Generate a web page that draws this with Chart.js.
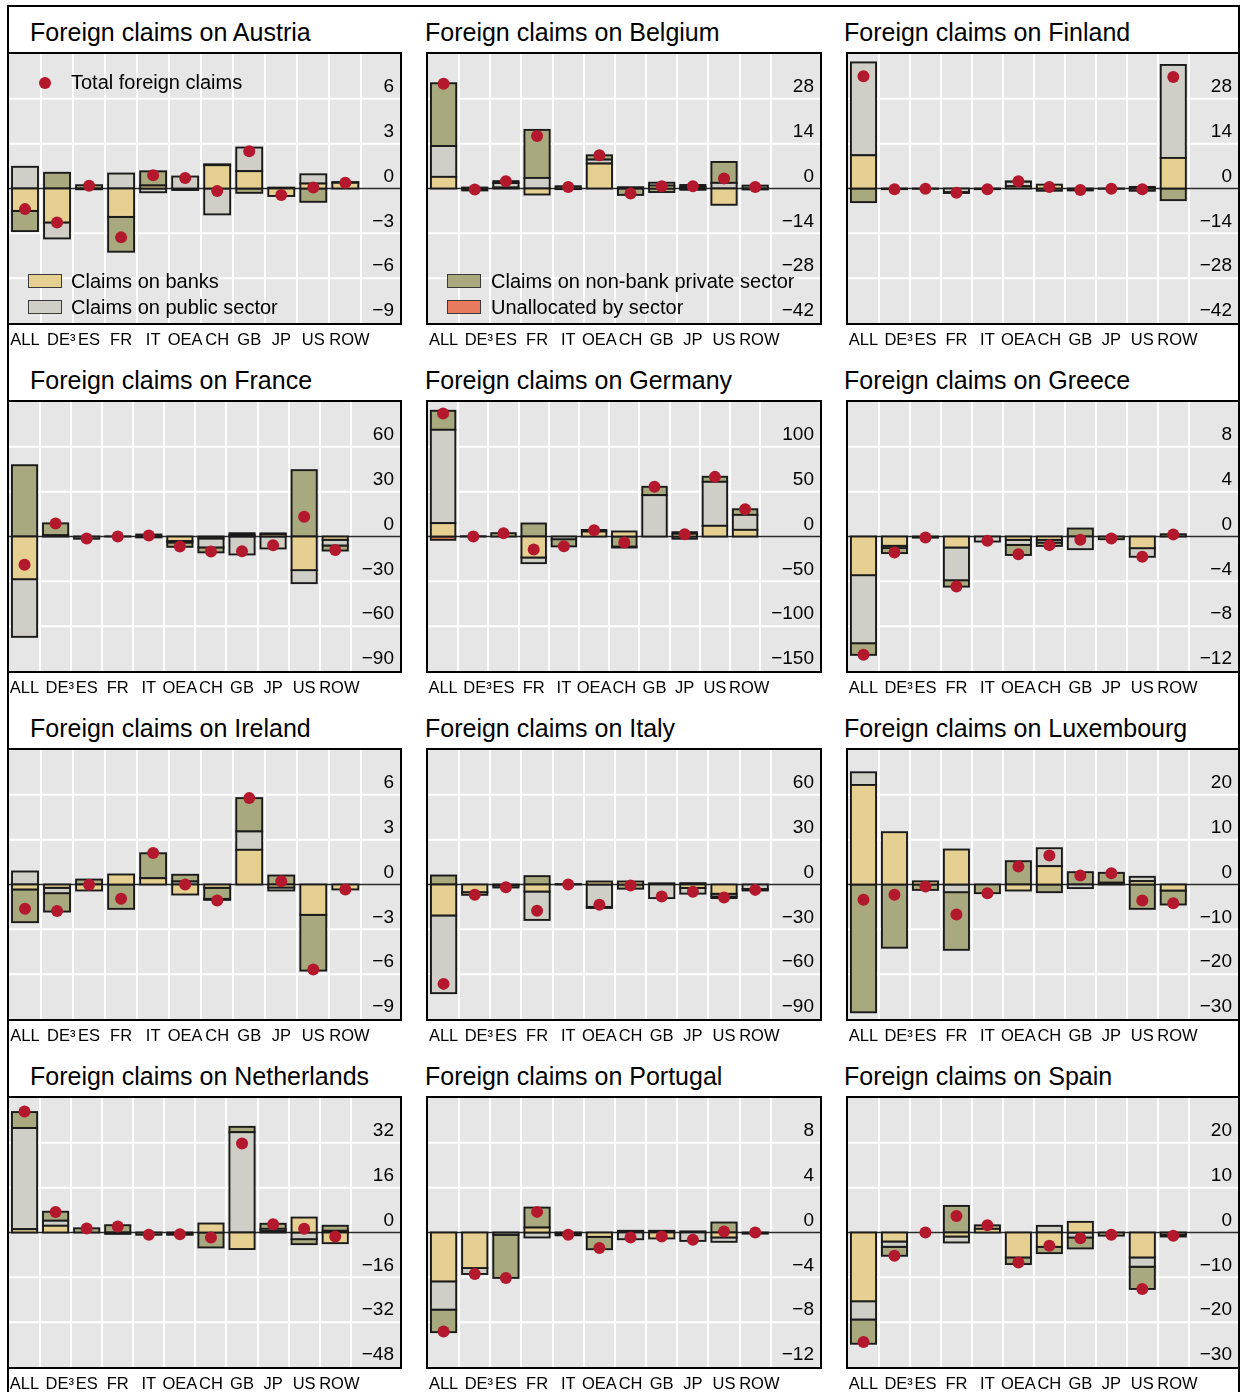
<!DOCTYPE html>
<html lang="en">
<head>
<meta charset="UTF-8">
<title>Foreign claims by reporting country</title>
<style>
    body {
        margin: 0;
        width: 1241px;
        height: 1392px;
        position: relative;
        overflow: hidden;
        background: #ffffff;
        font-family: "Liberation Sans", Arial, sans-serif;
        color: #000;
    }
    .line { position: absolute; background: #000; }
    .title {
        position: absolute;
        font-size: 25px;
        line-height: 25px;
        white-space: nowrap;
    }
    canvas { position: absolute; }
    .legend {
        position: absolute;
        font-size: 20px;
        line-height: 20px;
        white-space: nowrap;
    }
    .swatch {
        position: absolute;
        width: 34px;
        height: 14px;
        box-sizing: border-box;
        border: 1px solid #3a3a3a;
    }
    .dot {
        position: absolute;
        width: 12px;
        height: 12px;
        border-radius: 50%;
        background: #b3182d;
    }
</style>
</head>
<body>

<div class="line" style="left:7px;top:5px;width:1233px;height:2px"></div>
<div class="line" style="left:7px;top:5px;width:2px;height:1387px"></div>
<div class="line" style="left:1238px;top:5px;width:2px;height:1387px"></div>

<div class="title" style="left:30px;top:20px">Foreign claims on Austria</div>
<div class="title" style="left:425px;top:20px">Foreign claims on Belgium</div>
<div class="title" style="left:844px;top:20px">Foreign claims on Finland</div>
<div class="title" style="left:30px;top:368px">Foreign claims on France</div>
<div class="title" style="left:425px;top:368px">Foreign claims on Germany</div>
<div class="title" style="left:844px;top:368px">Foreign claims on Greece</div>
<div class="title" style="left:30px;top:716px">Foreign claims on Ireland</div>
<div class="title" style="left:425px;top:716px">Foreign claims on Italy</div>
<div class="title" style="left:844px;top:716px">Foreign claims on Luxembourg</div>
<div class="title" style="left:30px;top:1064px">Foreign claims on Netherlands</div>
<div class="title" style="left:425px;top:1064px">Foreign claims on Portugal</div>
<div class="title" style="left:844px;top:1064px">Foreign claims on Spain</div>

<canvas id="austria" width="395" height="303" style="left:7px;top:52px"></canvas>
<canvas id="belgium" width="396" height="303" style="left:426px;top:52px"></canvas>
<canvas id="finland" width="394" height="303" style="left:846px;top:52px"></canvas>
<canvas id="france" width="395" height="303" style="left:7px;top:400px"></canvas>
<canvas id="germany" width="396" height="303" style="left:426px;top:400px"></canvas>
<canvas id="greece" width="394" height="303" style="left:846px;top:400px"></canvas>
<canvas id="ireland" width="395" height="303" style="left:7px;top:748px"></canvas>
<canvas id="italy" width="396" height="303" style="left:426px;top:748px"></canvas>
<canvas id="luxembourg" width="394" height="303" style="left:846px;top:748px"></canvas>
<canvas id="netherlands" width="395" height="303" style="left:7px;top:1096px"></canvas>
<canvas id="portugal" width="396" height="303" style="left:426px;top:1096px"></canvas>
<canvas id="spain" width="394" height="303" style="left:846px;top:1096px"></canvas>

<!-- legend sits inside the Austria and Belgium panels -->
<div class="dot" style="left:39px;top:77px"></div>
<div class="legend" style="left:71px;top:72px">Total foreign claims</div>
<div class="swatch" style="left:28px;top:274px;background:#e5d092"></div>
<div class="legend" style="left:71px;top:271px">Claims on banks</div>
<div class="swatch" style="left:28px;top:300px;background:#cfcfc8"></div>
<div class="legend" style="left:71px;top:297px">Claims on public sector</div>
<div class="swatch" style="left:447px;top:274px;background:#a8a97e"></div>
<div class="legend" style="left:491px;top:271px">Claims on non-bank private sector</div>
<div class="swatch" style="left:447px;top:300px;background:#e87a5e"></div>
<div class="legend" style="left:491px;top:297px">Unallocated by sector</div>

<script src="https://cdn.jsdelivr.net/npm/chart.js"></script>
<script>
    // en space in front of DE³ and ROW nudges them right like the original's spacing
    const categories = ['ALL', '\u2002DE\u00b3', 'ES', 'FR', 'IT', 'OEA', 'CH', 'GB', 'JP', 'US', '\u2002ROW'];

    // Austria
    const atBanks   = [-1.5, -2.27, null, -1.9, 0.2, null, 1.56, 1.16, -0.5, 0.33, 0.38];
    const atPublic  = [1.45, -1.07, -0.05, 1.0, -0.25, 0.8, -1.73, 1.58, null, 0.62, null];
    const atNonbank = [-1.35, 1.05, 0.22, -2.33, 0.95, -0.1, 0.06, -0.29, 0.06, -0.89, 0.05];
    const atUnalloc = [];
    const atTotal   = [-1.38, -2.27, 0.18, -3.27, 0.89, 0.71, -0.16, 2.49, -0.44, 0.07, 0.38];

    // Belgium
    const beBanks   = [3.63, 0.3, 0.3, -1.87, -0.2, 7.78, 0.4, 0.9, 0.5, -5.08, -0.3];
    const bePublic  = [9.64, null, 1.4, 3.3, null, 1.24, null, 0.9, -0.4, 1.76, null];
    const beNonbank = [19.6, -0.6, 0.6, 15.0, 0.7, 1.35, -2.0, -1.1, 0.6, 6.53, 0.9];
    const beUnalloc = [];
    const beTotal   = [32.7, -0.3, 2.28, 16.4, 0.5, 10.37, -1.56, 0.73, 0.73, 3.11, 0.5];

    // Finland
    const fiBanks   = [10.37, null, null, null, null, 0.7, 1.2, null, null, 0.5, 9.54];
    const fiPublic  = [29.0, null, null, -1.1, null, 1.4, -0.7, null, null, -0.7, 29.04];
    const fiNonbank = [-4.25, -0.2, -0.1, -0.3, -0.2, 0.1, null, -0.6, -0.1, null, -3.63];
    const fiUnalloc = [];
    const fiTotal   = [35.05, -0.2, -0.1, -1.35, -0.2, 2.28, 0.5, -0.5, -0.1, -0.2, 34.8];

    // France
    const frBanks   = [-28.55, 0.8, null, null, -0.6, -3.0, -1.3, 1.0, 1.5, -22.5, -2.2];
    const frPublic  = [-38.6, null, null, null, null, -1.0, -6.0, -12.0, -8.0, -8.7, -3.8];
    const frNonbank = [47.7, 8.0, -1.5, 0.1, 1.3, -2.9, -3.3, 1.2, 0.6, 44.4, -3.4];
    const frUnalloc = [];
    const frTotal   = [-18.96, 8.7, -1.34, 0, 0.67, -6.7, -10.0, -9.8, -5.8, 13.16, -9.1];

    // Germany
    const deBanks   = [14.9, null, null, -23.4, null, 5.5, 5.6, null, 3.0, 11.9, 7.4];
    const dePublic  = [104.1, null, null, -6.3, -3.0, null, null, 46.1, -2.5, 49.1, 16.7];
    const deNonbank = [21.2, 0.3, 3.7, 14.5, -8.0, 1.8, -11.2, 9.3, 1.8, 5.6, 6.3];
    const deUnalloc = [-3.7, null, null, null, null, null, -1.1, null, null, null, null];
    const deTotal   = [137.2, 0, 3.7, -14.5, -10.8, 7.1, -6.7, 55.4, 2.6, 66.5, 30.5];

    // Greece
    const grBanks   = [-3.45, -0.83, null, -0.98, null, -0.3, -0.3, null, null, -1.04, null];
    const grPublic  = [-6.07, -0.2, null, -2.92, -0.45, -0.45, -0.24, -1.13, null, -0.77, null];
    const grNonbank = [-1.04, -0.45, -0.1, -0.57, null, -0.9, -0.3, 0.71, -0.24, null, 0.2];
    const grUnalloc = [];
    const grTotal   = [-10.56, -1.43, -0.09, -4.46, -0.39, -1.58, -0.77, -0.3, -0.18, -1.81, 0.18];

    // Ireland
    const ieBanks   = [-0.33, -0.22, -0.4, 0.67, 0.42, -0.67, -0.22, 2.32, -0.2, -2.03, -0.33];
    const iePublic  = [0.87, -0.36, null, null, null, 0.2, null, 1.23, -0.2, null, null];
    const ieNonbank = [-2.19, -1.23, 0.33, -1.63, 1.67, 0.45, -0.74, 2.23, 0.6, -3.73, null];
    const ieUnalloc = [null, null, null, null, null, null, -0.07, null, null, null, null];
    const ieTotal   = [-1.63, -1.78, -0.02, -0.96, 2.1, 0, -1.07, 5.78, 0.22, -5.69, -0.33];

    // Italy
    const itBanks   = [-20.7, -5.1, -0.5, -4.7, null, 2.0, 2.0, null, -2.3, -6.2, null];
    const itPublic  = [-52.0, null, null, -19.0, null, -15.0, null, -9.1, -3.8, -1.8, -3.0];
    const itNonbank = [6.0, -1.8, -1.5, 5.6, 0.3, -0.7, -2.8, 0.8, 0.9, -1.1, -1.0];
    const itUnalloc = [];
    const itTotal   = [-66.5, -6.9, -1.8, -17.6, 0, -13.6, -0.7, -8.0, -4.9, -8.7, -3.6];

    // Luxembourg
    const luBanks   = [22.2, 11.67, 0.7, 7.8, null, -1.34, 4.09, null, 0.4, 0.74, -1.34];
    const luPublic  = [2.83, null, null, -1.71, null, null, 4.0, -0.8, null, 0.97, null];
    const luNonbank = [-28.5, -14.1, -1.2, -12.86, -1.93, 5.2, -1.71, 2.75, 2.2, -5.43, -3.12];
    const luUnalloc = [];
    const luTotal   = [-3.42, -2.3, -0.45, -6.7, -1.93, 4.0, 6.47, 2.0, 2.53, -3.57, -4.16];

    // Netherlands
    const nlBanks   = [1.18, 2.4, null, -0.5, null, null, 3.2, -5.9, 0.5, 5.33, -3.8];
    const nlPublic  = [36.1, 1.8, null, null, null, -0.6, null, 35.8, 0.8, -2.37, 0.6];
    const nlNonbank = [5.7, 3.2, 1.5, 2.6, -0.8, -0.2, -5.33, 1.9, 1.8, -1.78, 1.8];
    const nlUnalloc = [];
    const nlTotal   = [43.2, 7.35, 1.42, 2.13, -0.83, -0.6, -1.78, 31.75, 2.96, 1.3, -1.42];

    // Portugal
    const ptBanks   = [-4.36, -3.17, null, 0.44, -0.1, -0.39, null, -0.53, null, -0.44, null];
    const ptPublic  = [-2.52, -0.53, -0.2, -0.44, null, null, -0.6, null, -0.75, -0.39, null];
    const ptNonbank = [-2.01, null, -3.85, 1.78, -0.15, -1.1, 0.15, 0.15, 0.1, 0.89, -0.1];
    const ptUnalloc = [];
    const ptTotal   = [-8.83, -3.7, -4.06, 1.84, -0.21, -1.39, -0.44, -0.36, -0.65, 0.09, 0];

    // Spain
    const esBanks   = [-15.33, -2.0, null, -0.89, 0.8, -5.56, -3.19, 2.37, null, -5.56, -0.5];
    const esPublic  = [-4.07, -1.19, null, -1.33, null, null, 1.48, -1.11, null, -2.07, null];
    const esNonbank = [-5.41, -2.0, null, 5.93, 0.8, -1.48, -1.41, -2.44, -0.7, -4.96, -0.4];
    const esUnalloc = [];
    const esTotal   = [-24.4, -5.19, 0, 3.7, 1.63, -6.67, -2.96, -1.26, -0.52, -12.59, -0.74];

    const panels = [
        { id: 'austria',     max: 9,   step: 3,  banks: atBanks, pub: atPublic, nonbank: atNonbank, unalloc: atUnalloc, total: atTotal },
        { id: 'belgium',     max: 42,  step: 14, banks: beBanks, pub: bePublic, nonbank: beNonbank, unalloc: beUnalloc, total: beTotal },
        { id: 'finland',     max: 42,  step: 14, banks: fiBanks, pub: fiPublic, nonbank: fiNonbank, unalloc: fiUnalloc, total: fiTotal },
        { id: 'france',      max: 90,  step: 30, banks: frBanks, pub: frPublic, nonbank: frNonbank, unalloc: frUnalloc, total: frTotal },
        { id: 'germany',     max: 150, step: 50, banks: deBanks, pub: dePublic, nonbank: deNonbank, unalloc: deUnalloc, total: deTotal },
        { id: 'greece',      max: 12,  step: 4,  banks: grBanks, pub: grPublic, nonbank: grNonbank, unalloc: grUnalloc, total: grTotal },
        { id: 'ireland',     max: 9,   step: 3,  banks: ieBanks, pub: iePublic, nonbank: ieNonbank, unalloc: ieUnalloc, total: ieTotal },
        { id: 'italy',       max: 90,  step: 30, banks: itBanks, pub: itPublic, nonbank: itNonbank, unalloc: itUnalloc, total: itTotal },
        { id: 'luxembourg',  max: 30,  step: 10, banks: luBanks, pub: luPublic, nonbank: luNonbank, unalloc: luUnalloc, total: luTotal },
        { id: 'netherlands', max: 48,  step: 16, banks: nlBanks, pub: nlPublic, nonbank: nlNonbank, unalloc: nlUnalloc, total: nlTotal },
        { id: 'portugal',    max: 12,  step: 4,  banks: ptBanks, pub: ptPublic, nonbank: ptNonbank, unalloc: ptUnalloc, total: ptTotal },
        { id: 'spain',       max: 30,  step: 10, banks: esBanks, pub: esPublic, nonbank: esNonbank, unalloc: esUnalloc, total: esTotal }
    ];

    const FONT = '"Liberation Sans", Arial, sans-serif';
    const MINUS = '\u2212';

    // grey plot box, white horizontal grid across the label strip, zero line,
    // centred outlines on every bar segment, black frame
    const boxPlugin = {
        id: 'box',
        beforeDraw(chart) {
            const { ctx, chartArea, scales } = chart;
            const y = scales.y;
            const w = chart.width;
            ctx.save();
            ctx.fillStyle = '#e6e6e6';
            ctx.fillRect(2, chartArea.top, w - 4, chartArea.bottom - chartArea.top);
            ctx.strokeStyle = '#ffffff';
            ctx.lineWidth = 2;
            y.ticks.forEach(t => {
                if (t.value === y.max || t.value === y.min || t.value === 0) return;
                const py = y.getPixelForValue(t.value);
                ctx.beginPath();
                ctx.moveTo(2, py);
                ctx.lineTo(w - 2, py);
                ctx.stroke();
            });
            ctx.restore();
        },
        beforeDatasetsDraw(chart) {
            const { ctx, scales } = chart;
            const py = scales.y.getPixelForValue(0);
            ctx.save();
            ctx.strokeStyle = '#2a2a2a';
            ctx.lineWidth = 1.3;
            ctx.beginPath();
            ctx.moveTo(2, py);
            ctx.lineTo(chart.width - 2, py);
            ctx.stroke();
            ctx.restore();
        },
        afterDatasetDraw(chart, args) {
            const meta = args.meta;
            if (meta.type !== 'bar') return;
            const values = chart.data.datasets[args.index].data;
            const ctx = chart.ctx;
            ctx.save();
            ctx.strokeStyle = '#1a1a1a';
            ctx.lineWidth = 1.9;
            meta.data.forEach((bar, i) => {
                if (values[i] === null || values[i] === undefined) return;
                const { x, y, base, width } = bar.getProps(['x', 'y', 'base', 'width'], true);
                ctx.strokeRect(x - width / 2, Math.min(y, base), width, Math.abs(base - y));
            });
            ctx.restore();
        },
        afterDraw(chart) {
            const { ctx, chartArea } = chart;
            ctx.save();
            ctx.strokeStyle = '#000';
            ctx.lineWidth = 2;
            ctx.strokeRect(1, 1, chart.width - 2, chartArea.bottom);
            ctx.restore();
        }
    };

    function barSet(label, data, color) {
        return { label: label, data: data, backgroundColor: color, order: 1 };
    }

    panels.forEach(p => {
        new Chart(document.getElementById(p.id), {
            type: 'bar',
            data: {
                labels: categories,
                datasets: [
                    barSet('Claims on banks', p.banks, '#e5d092'),
                    barSet('Claims on public sector', p.pub, '#cfcfc8'),
                    barSet('Claims on non-bank private sector', p.nonbank, '#a8a97e'),
                    barSet('Unallocated by sector', p.unalloc, '#e87a5e'),
                    {
                        type: 'line',
                        label: 'Total foreign claims',
                        data: p.total,
                        stack: 'dots',
                        showLine: false,
                        pointRadius: 6,
                        pointHoverRadius: 6,
                        pointBorderWidth: 0,
                        pointBackgroundColor: '#b3182d',
                        order: 0
                    }
                ]
            },
            options: {
                responsive: false,
                animation: false,
                devicePixelRatio: 1,
                layout: { autoPadding: false, padding: { left: 2, top: 2, right: 8, bottom: 0 } },
                plugins: {
                    legend: { display: false },
                    tooltip: { enabled: false }
                },
                datasets: {
                    bar: {
                        barPercentage: 0.81,
                        categoryPercentage: 1,
                        borderWidth: 0,
                        inflateAmount: 0
                    }
                },
                scales: {
                    x: {
                        stacked: true,
                        grid: {
                            offset: true,
                            drawTicks: false,
                            lineWidth: 2,
                            color: c => c.index === 0 ? 'rgba(0,0,0,0)' : '#ffffff'
                        },
                        border: { display: false },
                        ticks: {
                            autoSkip: false,
                            maxRotation: 0,
                            minRotation: 0,
                            padding: 8,
                            color: '#000',
                            font: { family: FONT, size: 16.5 }
                        },
                        afterFit: s => {
                            s.height = 32;
                            s.paddingLeft = 0;
                            s.paddingRight = 0;
                        }
                    },
                    y: {
                        position: 'right',
                        stacked: true,
                        min: -p.max,
                        max: p.max,
                        grid: { display: false, drawTicks: false },
                        border: { display: false },
                        ticks: {
                            stepSize: p.step,
                            crossAlign: 'far',
                            // the scale counts this twice: label strip = widest label + 11
                            padding: 5.5,
                            labelOffset: -12,
                            color: '#000',
                            font: { family: FONT, size: 19 },
                            callback: v => v === p.max ? '' : (v < 0 ? MINUS + Math.abs(v) : String(v))
                        },
                        afterFit: s => {
                            s.paddingTop = 0;
                            s.paddingBottom = 0;
                        }
                    }
                }
            },
            plugins: [boxPlugin]
        });
    });
</script>

</body>
</html>
